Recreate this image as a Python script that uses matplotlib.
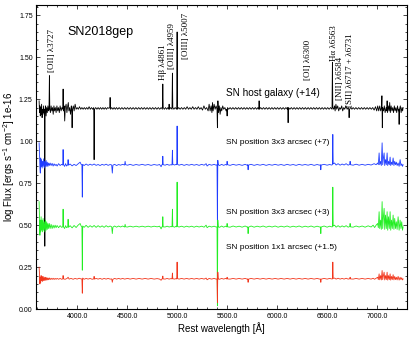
import numpy as np
import matplotlib
matplotlib.use("Agg")
import matplotlib.pyplot as plt
from matplotlib.ticker import MultipleLocator, FormatStrFormatter

plt.rcParams['font.family'] = ['Liberation Sans', 'DejaVu Sans']
plt.rcParams['mathtext.fontset'] = 'custom'
plt.rcParams['mathtext.rm'] = 'Liberation Sans'
plt.rcParams['mathtext.it'] = 'Liberation Sans:italic'

# (rest wavelength [A], log flux), offsets already included
host = [
    (3620, 1.24), (3624, 1.17), (3628, 1.21), (3632, 1.15), (3636, 1.20), (3640, 1.16), (3645, 1.22),
    (3650, 1.14), (3655, 1.19), (3660, 1.17), (3665, 1.21), (3670, 1.16), (3674, 1.19), (3677, 0.375),
    (3680, 1.18), (3685, 1.21), (3690, 1.15), (3696, 1.20), (3702, 1.17), (3708, 1.21), (3714, 1.18),
    (3719, 1.19), (3723, 1.39), (3727, 1.19), (3733, 1.17), (3740, 1.21), (3747, 1.18), (3754, 1.20),
    (3761, 1.16), (3768, 1.21), (3775, 1.18), (3782, 1.20), (3790, 1.17), (3798, 1.21), (3806, 1.18),
    (3814, 1.20), (3822, 1.17), (3830, 1.21), (3840, 1.18), (3848, 1.20), (3856, 1.19), (3860, 1.31),
    (3864, 1.18), (3870, 1.21), (3876, 1.12), (3882, 1.20), (3890, 1.22), (3898, 1.17), (3906, 1.21),
    (3912, 1.23), (3918, 1.18), (3926, 1.20), (3934, 1.16), (3942, 1.21), (3946, 1.19), (3950, 1.08),
    (3954, 1.19), (3962, 1.21), (3970, 1.18), (3980, 1.22), (3990, 1.19), (4000, 1.20), (4012, 1.19),
    (4024, 1.205), (4036, 1.19), (4048, 1.20), (4060, 1.19), (4072, 1.20), (4084, 1.19), (4096, 1.20),
    (4108, 1.19), (4120, 1.205), (4132, 1.19), (4144, 1.20), (4156, 1.19), (4166, 1.20), (4170, 0.89),
    (4174, 1.19), (4186, 1.20), (4198, 1.19), (4210, 1.20), (4222, 1.19), (4234, 1.20), (4246, 1.19),
    (4258, 1.20), (4270, 1.19), (4282, 1.20), (4294, 1.19), (4306, 1.20), (4318, 1.195), (4326, 1.20),
    (4330, 1.26), (4334, 1.19), (4346, 1.20), (4358, 1.19), (4370, 1.20), (4382, 1.19), (4394, 1.20),
    (4406, 1.19), (4420, 1.20), (4434, 1.19), (4448, 1.20), (4462, 1.19), (4476, 1.20), (4490, 1.19),
    (4504, 1.20), (4518, 1.19), (4532, 1.20), (4546, 1.19), (4560, 1.20), (4574, 1.19), (4588, 1.20),
    (4602, 1.19), (4616, 1.20), (4630, 1.19), (4644, 1.20), (4658, 1.19), (4672, 1.20), (4686, 1.19),
    (4700, 1.20), (4714, 1.19), (4728, 1.20), (4742, 1.19), (4756, 1.20), (4770, 1.19), (4784, 1.20),
    (4798, 1.19), (4812, 1.20), (4826, 1.19), (4840, 1.20), (4853, 1.19), (4857, 1.34), (4861, 1.20),
    (4872, 1.19), (4884, 1.20), (4896, 1.19), (4908, 1.20), (4916, 1.19), (4920, 1.22), (4924, 1.19),
    (4936, 1.20), (4949, 1.19), (4953, 1.405), (4957, 1.20), (4968, 1.19), (4980, 1.20), (4996, 1.19),
    (5000, 1.65), (5004, 1.19), (5016, 1.20), (5030, 1.19), (5044, 1.20), (5058, 1.19), (5072, 1.20),
    (5086, 1.19), (5100, 1.205), (5114, 1.19), (5128, 1.20), (5142, 1.19), (5156, 1.205), (5170, 1.19),
    (5184, 1.20), (5198, 1.19), (5212, 1.205), (5226, 1.19), (5240, 1.20), (5254, 1.185), (5268, 1.21),
    (5282, 1.19), (5296, 1.20), (5310, 1.18), (5320, 1.22), (5330, 1.18), (5340, 1.21), (5348, 1.17),
    (5354, 1.23), (5360, 1.18), (5370, 1.22), (5380, 1.19), (5390, 1.21), (5399, 1.19), (5403, 1.08),
    (5408, 1.24), (5414, 1.17), (5422, 1.21), (5430, 1.16), (5438, 1.20), (5446, 1.18), (5456, 1.21),
    (5466, 1.19), (5478, 1.20), (5490, 1.18), (5496, 1.19), (5500, 1.15), (5504, 1.20), (5516, 1.19),
    (5530, 1.20), (5544, 1.19), (5558, 1.20), (5572, 1.19), (5586, 1.20), (5600, 1.19), (5614, 1.20),
    (5628, 1.19), (5642, 1.20), (5656, 1.19), (5670, 1.20), (5684, 1.19), (5698, 1.20), (5712, 1.19),
    (5726, 1.20), (5740, 1.19), (5754, 1.20), (5768, 1.19), (5782, 1.20), (5796, 1.19), (5808, 1.20),
    (5816, 1.19), (5820, 1.24), (5824, 1.19), (5836, 1.20), (5850, 1.19), (5864, 1.20), (5878, 1.19),
    (5892, 1.20), (5906, 1.19), (5920, 1.20), (5934, 1.19), (5948, 1.20), (5962, 1.19), (5976, 1.20),
    (5990, 1.19), (6004, 1.20), (6018, 1.19), (6032, 1.20), (6046, 1.19), (6060, 1.20), (6074, 1.19),
    (6088, 1.20), (6102, 1.19), (6106, 1.20), (6110, 1.11), (6114, 1.20), (6128, 1.19), (6142, 1.20),
    (6156, 1.19), (6170, 1.20), (6184, 1.19), (6198, 1.20), (6212, 1.19), (6226, 1.20), (6240, 1.19),
    (6254, 1.20), (6268, 1.19), (6282, 1.20), (6296, 1.19), (6310, 1.20), (6324, 1.19), (6338, 1.20),
    (6352, 1.19), (6366, 1.20), (6380, 1.19), (6394, 1.20), (6408, 1.19), (6422, 1.20), (6436, 1.19),
    (6450, 1.20), (6464, 1.19), (6478, 1.20), (6492, 1.19), (6506, 1.20), (6520, 1.19), (6534, 1.20),
    (6549, 1.19), (6553, 1.47), (6557, 1.20), (6566, 1.19), (6574, 1.21), (6580, 1.18), (6588, 1.22),
    (6596, 1.19), (6606, 1.21), (6616, 1.18), (6626, 1.20), (6636, 1.19), (6646, 1.21), (6656, 1.18),
    (6666, 1.20), (6676, 1.19), (6688, 1.21), (6700, 1.19), (6712, 1.20), (6716, 1.19), (6720, 1.14),
    (6724, 1.19), (6736, 1.20), (6748, 1.19), (6760, 1.20), (6774, 1.19), (6788, 1.20), (6802, 1.19),
    (6816, 1.20), (6830, 1.19), (6844, 1.20), (6858, 1.19), (6872, 1.20), (6886, 1.19), (6900, 1.20),
    (6914, 1.19), (6928, 1.20), (6942, 1.19), (6956, 1.20), (6970, 1.185), (6984, 1.205), (6996, 1.18),
    (7006, 1.21), (7016, 1.18), (7026, 1.21), (7036, 1.18), (7044, 1.20), (7048, 1.27), (7052, 1.08),
    (7056, 1.20), (7064, 1.18), (7072, 1.21), (7080, 1.17), (7090, 1.20), (7096, 1.18), (7100, 1.24),
    (7104, 1.17), (7112, 1.21), (7120, 1.18), (7126, 1.23), (7132, 1.17), (7140, 1.21), (7148, 1.18),
    (7156, 1.20), (7164, 1.17), (7172, 1.21), (7180, 1.18), (7188, 1.20), (7196, 1.17), (7204, 1.21),
    (7212, 1.18), (7216, 1.19), (7220, 1.10), (7224, 1.19), (7232, 1.21), (7240, 1.17), (7248, 1.20),
    (7255, 1.18), (7260, 1.20),
]

pos3x3_a = [
    (3620, 0.99), (3624, 0.93), (3628, 0.84), (3632, 0.81), (3636, 0.90), (3640, 0.85), (3645, 0.89),
    (3650, 0.84), (3655, 0.88), (3660, 0.85), (3666, 0.895), (3672, 0.84), (3678, 0.88), (3684, 0.85),
    (3690, 0.885), (3696, 0.85), (3702, 0.875), (3708, 0.85), (3715, 0.87), (3722, 0.855), (3730, 0.87),
    (3740, 0.855), (3750, 0.868), (3760, 0.852), (3770, 0.865), (3780, 0.855), (3790, 0.862), (3800, 0.852),
    (3815, 0.866), (3830, 0.855), (3845, 0.862), (3856, 0.858), (3860, 0.95), (3864, 0.86), (3875, 0.85),
    (3885, 0.866), (3895, 0.852), (3906, 0.86), (3910, 0.89), (3914, 0.857), (3930, 0.864), (3950, 0.853),
    (3970, 0.862), (3990, 0.855), (4010, 0.865), (4030, 0.875), (4040, 0.862), (4048, 0.86), (4052, 0.667),
    (4056, 0.862), (4070, 0.855), (4090, 0.864), (4110, 0.856), (4130, 0.863), (4150, 0.857), (4170, 0.864),
    (4190, 0.856), (4210, 0.861), (4230, 0.855), (4250, 0.862), (4270, 0.857), (4290, 0.863), (4310, 0.856),
    (4330, 0.861), (4346, 0.858), (4352, 0.81), (4358, 0.857), (4375, 0.862), (4395, 0.855), (4415, 0.861),
    (4435, 0.857), (4455, 0.862), (4475, 0.858), (4480, 0.88), (4485, 0.86), (4505, 0.857), (4530, 0.862),
    (4560, 0.856), (4590, 0.861), (4620, 0.857), (4650, 0.862), (4680, 0.857), (4710, 0.861), (4740, 0.856),
    (4770, 0.861), (4800, 0.857), (4825, 0.861), (4840, 0.848), (4848, 0.86), (4853, 0.86), (4857, 0.91),
    (4861, 0.86), (4880, 0.857), (4900, 0.862), (4920, 0.857), (4940, 0.86), (4949, 0.858), (4953, 0.946),
    (4957, 0.862), (4975, 0.858), (4990, 0.862), (4996, 0.86), (5000, 1.09), (5004, 0.862), (5020, 0.857),
    (5045, 0.862), (5070, 0.856), (5095, 0.861), (5120, 0.857), (5145, 0.862), (5170, 0.857), (5195, 0.861),
    (5220, 0.856), (5245, 0.862), (5270, 0.857), (5290, 0.866), (5300, 0.852), (5320, 0.862), (5345, 0.857),
    (5370, 0.862), (5390, 0.857), (5399, 0.86), (5403, 0.50), (5407, 0.886), (5411, 0.86), (5425, 0.855),
    (5445, 0.862), (5465, 0.856), (5485, 0.861), (5496, 0.858), (5500, 0.88), (5504, 0.86), (5530, 0.856),
    (5560, 0.862), (5590, 0.857), (5620, 0.861), (5650, 0.856), (5680, 0.862), (5700, 0.857), (5706, 0.86),
    (5710, 0.83), (5714, 0.858), (5740, 0.862), (5770, 0.856), (5800, 0.861), (5830, 0.857), (5860, 0.862),
    (5890, 0.856), (5920, 0.861), (5950, 0.857), (5980, 0.862), (6010, 0.857), (6040, 0.861), (6070, 0.856),
    (6100, 0.862), (6130, 0.857), (6160, 0.861), (6190, 0.856), (6220, 0.862), (6250, 0.857), (6280, 0.861),
    (6310, 0.857), (6340, 0.862), (6370, 0.856), (6400, 0.861), (6425, 0.857), (6433, 0.86), (6437, 0.83),
    (6441, 0.858), (6470, 0.862), (6500, 0.857), (6525, 0.861), (6545, 0.858), (6553, 0.86), (6557, 1.04),
    (6561, 0.865), (6575, 0.87), (6590, 0.858), (6610, 0.866), (6630, 0.857), (6650, 0.864), (6670, 0.858),
    (6690, 0.866), (6710, 0.857), (6726, 0.862), (6730, 0.88), (6734, 0.86), (6760, 0.857), (6790, 0.863),
    (6820, 0.857), (6850, 0.862), (6880, 0.857), (6910, 0.862), (6940, 0.858), (6970, 0.866), (6990, 0.86),
    (7005, 0.87), (7012, 0.86), (7020, 0.93), (7026, 0.86), (7035, 0.88), (7042, 0.855), (7050, 0.99),
    (7056, 0.86), (7063, 0.90), (7070, 0.93), (7076, 0.855), (7084, 0.89), (7092, 0.86), (7100, 0.93),
    (7106, 0.855), (7114, 0.88), (7122, 0.86), (7130, 0.905), (7136, 0.855), (7144, 0.875), (7152, 0.86),
    (7160, 0.90), (7168, 0.855), (7176, 0.88), (7184, 0.86), (7192, 0.875), (7200, 0.855), (7210, 0.87),
    (7220, 0.85), (7230, 0.89), (7238, 0.855), (7246, 0.865), (7254, 0.85), (7260, 0.86),
]

pos3x3_b = [
    (3620, 0.64), (3624, 0.55), (3628, 0.44), (3632, 0.53), (3636, 0.46), (3640, 0.55), (3645, 0.47),
    (3650, 0.53), (3655, 0.46), (3660, 0.54), (3666, 0.47), (3672, 0.52), (3678, 0.46), (3684, 0.53),
    (3690, 0.47), (3696, 0.52), (3702, 0.475), (3708, 0.51), (3715, 0.48), (3722, 0.51), (3730, 0.48),
    (3740, 0.505), (3750, 0.48), (3760, 0.50), (3770, 0.483), (3780, 0.50), (3790, 0.485), (3800, 0.498),
    (3815, 0.485), (3830, 0.497), (3845, 0.487), (3856, 0.49), (3860, 0.595), (3864, 0.49), (3875, 0.48),
    (3885, 0.497), (3895, 0.485), (3906, 0.49), (3910, 0.535), (3914, 0.487), (3930, 0.497), (3950, 0.484),
    (3970, 0.498), (3990, 0.486), (4010, 0.50), (4030, 0.51), (4040, 0.495), (4048, 0.49), (4052, 0.232),
    (4056, 0.495), (4070, 0.487), (4090, 0.499), (4110, 0.487), (4130, 0.497), (4150, 0.488), (4170, 0.498),
    (4190, 0.487), (4210, 0.497), (4230, 0.488), (4250, 0.496), (4270, 0.487), (4290, 0.497), (4310, 0.489),
    (4330, 0.495), (4346, 0.49), (4352, 0.45), (4358, 0.488), (4375, 0.495), (4395, 0.488), (4415, 0.495),
    (4435, 0.489), (4455, 0.495), (4475, 0.489), (4480, 0.505), (4485, 0.49), (4505, 0.489), (4530, 0.494),
    (4560, 0.489), (4590, 0.494), (4620, 0.489), (4650, 0.494), (4680, 0.489), (4710, 0.494), (4740, 0.489),
    (4770, 0.494), (4800, 0.49), (4825, 0.494), (4840, 0.478), (4848, 0.49), (4853, 0.49), (4857, 0.55),
    (4861, 0.49), (4880, 0.489), (4900, 0.494), (4920, 0.489), (4940, 0.492), (4949, 0.49), (4953, 0.595),
    (4957, 0.492), (4975, 0.488), (4990, 0.494), (4996, 0.49), (5000, 0.756), (5004, 0.492), (5020, 0.489),
    (5045, 0.494), (5070, 0.488), (5095, 0.494), (5120, 0.489), (5145, 0.494), (5170, 0.488), (5195, 0.494),
    (5220, 0.489), (5245, 0.494), (5270, 0.488), (5290, 0.50), (5300, 0.485), (5320, 0.494), (5345, 0.489),
    (5370, 0.494), (5390, 0.489), (5399, 0.49), (5403, 0.02), (5407, 0.53), (5411, 0.49), (5425, 0.487),
    (5445, 0.495), (5465, 0.488), (5485, 0.494), (5496, 0.49), (5500, 0.51), (5504, 0.49), (5530, 0.488),
    (5560, 0.495), (5590, 0.489), (5620, 0.494), (5650, 0.488), (5680, 0.495), (5700, 0.489), (5706, 0.49),
    (5710, 0.45), (5714, 0.488), (5740, 0.495), (5770, 0.488), (5800, 0.494), (5830, 0.489), (5860, 0.495),
    (5890, 0.488), (5920, 0.494), (5950, 0.489), (5980, 0.495), (6010, 0.488), (6040, 0.494), (6070, 0.489),
    (6100, 0.495), (6130, 0.488), (6160, 0.494), (6190, 0.489), (6220, 0.495), (6250, 0.488), (6280, 0.494),
    (6310, 0.489), (6340, 0.495), (6370, 0.488), (6400, 0.494), (6425, 0.489), (6433, 0.49), (6437, 0.45),
    (6441, 0.489), (6470, 0.495), (6500, 0.488), (6525, 0.494), (6545, 0.49), (6553, 0.49), (6557, 0.726),
    (6561, 0.495), (6575, 0.50), (6590, 0.488), (6610, 0.497), (6630, 0.488), (6650, 0.496), (6670, 0.489),
    (6690, 0.497), (6710, 0.488), (6726, 0.492), (6730, 0.51), (6734, 0.49), (6760, 0.488), (6790, 0.495),
    (6820, 0.489), (6850, 0.495), (6880, 0.488), (6910, 0.496), (6940, 0.489), (6960, 0.50), (6975, 0.486),
    (6990, 0.50), (7005, 0.51), (7012, 0.485), (7020, 0.58), (7026, 0.48), (7035, 0.53), (7042, 0.475),
    (7050, 0.64), (7056, 0.48), (7063, 0.55), (7070, 0.60), (7076, 0.475), (7084, 0.56), (7092, 0.48),
    (7100, 0.58), (7106, 0.47), (7114, 0.55), (7122, 0.48), (7130, 0.58), (7136, 0.47), (7144, 0.53),
    (7152, 0.48), (7160, 0.56), (7168, 0.475), (7176, 0.54), (7184, 0.48), (7192, 0.52), (7200, 0.475),
    (7210, 0.55), (7220, 0.47), (7230, 0.53), (7238, 0.48), (7246, 0.52), (7254, 0.47), (7260, 0.49),
]

pos1x1 = [
    (3620, 0.25), (3624, 0.21), (3628, 0.15), (3632, 0.19), (3636, 0.16), (3640, 0.20), (3645, 0.17),
    (3650, 0.195), (3655, 0.165), (3660, 0.195), (3666, 0.17), (3672, 0.19), (3678, 0.17), (3684, 0.19),
    (3690, 0.172), (3696, 0.188), (3702, 0.174), (3708, 0.186), (3715, 0.175), (3722, 0.186), (3730, 0.176),
    (3740, 0.184), (3750, 0.177), (3760, 0.184), (3770, 0.177), (3780, 0.183), (3790, 0.178), (3800, 0.183),
    (3815, 0.178), (3830, 0.183), (3845, 0.178), (3856, 0.18), (3860, 0.20), (3864, 0.18), (3880, 0.178),
    (3900, 0.183), (3910, 0.19), (3920, 0.179), (3940, 0.183), (3960, 0.178), (3980, 0.183), (4000, 0.179),
    (4020, 0.184), (4040, 0.18), (4048, 0.18), (4052, 0.095), (4056, 0.185), (4070, 0.178), (4090, 0.183),
    (4110, 0.179), (4130, 0.183), (4150, 0.178), (4166, 0.18), (4170, 0.195), (4174, 0.179), (4190, 0.183),
    (4210, 0.179), (4230, 0.183), (4250, 0.178), (4270, 0.183), (4290, 0.179), (4310, 0.183), (4330, 0.179),
    (4346, 0.18), (4352, 0.16), (4358, 0.178), (4375, 0.183), (4395, 0.179), (4415, 0.183), (4435, 0.179),
    (4455, 0.183), (4475, 0.179), (4505, 0.183), (4530, 0.179), (4560, 0.183), (4590, 0.179), (4620, 0.183),
    (4650, 0.179), (4680, 0.183), (4710, 0.179), (4740, 0.183), (4770, 0.179), (4800, 0.182), (4825, 0.179),
    (4840, 0.172), (4848, 0.18), (4853, 0.18), (4857, 0.197), (4861, 0.18), (4880, 0.179), (4900, 0.183),
    (4920, 0.179), (4940, 0.182), (4949, 0.18), (4953, 0.215), (4957, 0.181), (4975, 0.179), (4990, 0.182),
    (4996, 0.18), (5000, 0.28), (5004, 0.182), (5020, 0.179), (5045, 0.183), (5070, 0.179), (5095, 0.183),
    (5120, 0.179), (5145, 0.183), (5170, 0.179), (5195, 0.183), (5220, 0.179), (5245, 0.183), (5270, 0.179),
    (5290, 0.185), (5300, 0.175), (5320, 0.183), (5345, 0.179), (5370, 0.183), (5390, 0.179), (5399, 0.18),
    (5403, 0.04), (5407, 0.22), (5411, 0.18), (5425, 0.178), (5445, 0.183), (5465, 0.179), (5485, 0.183),
    (5496, 0.18), (5500, 0.19), (5504, 0.18), (5530, 0.179), (5560, 0.183), (5590, 0.179), (5620, 0.183),
    (5650, 0.179), (5680, 0.183), (5700, 0.179), (5706, 0.18), (5710, 0.16), (5714, 0.179), (5740, 0.183),
    (5770, 0.179), (5800, 0.183), (5830, 0.179), (5860, 0.183), (5890, 0.179), (5920, 0.183), (5950, 0.179),
    (5980, 0.183), (6010, 0.179), (6040, 0.183), (6070, 0.179), (6100, 0.183), (6130, 0.179), (6160, 0.183),
    (6190, 0.179), (6220, 0.183), (6250, 0.179), (6280, 0.183), (6310, 0.179), (6340, 0.183), (6370, 0.179),
    (6400, 0.183), (6425, 0.179), (6433, 0.18), (6437, 0.16), (6441, 0.179), (6470, 0.183), (6500, 0.179),
    (6525, 0.183), (6545, 0.18), (6553, 0.18), (6557, 0.28), (6561, 0.183), (6575, 0.185), (6590, 0.179),
    (6610, 0.184), (6630, 0.179), (6650, 0.183), (6670, 0.179), (6690, 0.184), (6710, 0.179), (6726, 0.181),
    (6730, 0.19), (6734, 0.18), (6760, 0.179), (6790, 0.183), (6820, 0.179), (6850, 0.183), (6880, 0.179),
    (6910, 0.183), (6940, 0.179), (6960, 0.184), (6975, 0.178), (6990, 0.184), (7005, 0.19), (7012, 0.176),
    (7020, 0.21), (7026, 0.175), (7035, 0.20), (7042, 0.174), (7050, 0.23), (7056, 0.176), (7063, 0.20),
    (7070, 0.22), (7076, 0.174), (7084, 0.20), (7092, 0.176), (7100, 0.22), (7106, 0.173), (7114, 0.20),
    (7122, 0.176), (7130, 0.21), (7136, 0.173), (7144, 0.195), (7152, 0.176), (7160, 0.205), (7168, 0.174),
    (7176, 0.195), (7184, 0.176), (7192, 0.19), (7200, 0.174), (7210, 0.195), (7220, 0.173), (7230, 0.19),
    (7238, 0.176), (7246, 0.187), (7254, 0.174), (7260, 0.18),
]

spectra = [host, pos3x3_a, pos3x3_b, pos1x1]
colors = ['black', '#1f3cff', '#22ee22', '#f2361c']

# spectrum labels: (text, x, y, fontsize)
spec_labels = [
    ("SN host galaxy (+14)", 5490, 1.286, 7.2),
    ("SN position 3x3 arcsec (+7)", 5490, 0.994, 6.0),
    ("SN position 3x3 arcsec (+3)", 5490, 0.577, 6.0),
    ("SN position 1x1 arcsec (+1.5)", 5490, 0.369, 6.0),
]

# emission line labels: (text, x, y bottom)
line_labels = [
    ("[OII] λ3727", 3750, 1.41),
    ("Hβ λ4861", 4862, 1.363),
    ("[OIII] λ4959", 4952, 1.43),
    ("[OIII] λ5007", 5090, 1.49),
    ("[OI] λ6300", 6310, 1.363),
    ("Hα λ6563", 6572, 1.48),
    ("[NII] λ6584", 6632, 1.244),
    ("[SII] λ6717 + λ6731", 6732, 1.202),
]

fig = plt.figure(figsize=(4.15, 3.39), dpi=100)
ax = fig.add_axes([0.087, 0.088, 0.894, 0.897])

for spec, col in zip(spectra, colors):
    wl, fl = np.array(spec).T
    ax.plot(wl, fl, color=col, lw=0.6)

ax.text(4230, 1.65, "SN2018gep", fontsize=9, ha='center', va='center')
for txt, x, y, fs in spec_labels:
    ax.text(x, y, txt, fontsize=fs, ha='left', va='center')
for txt, x, y in line_labels:
    ax.text(x, y, txt, fontsize=6.5, rotation=90, ha='center', va='bottom',
            family=['Liberation Serif', 'DejaVu Serif'])

ax.set_xlim(3590, 7300)
ax.set_ylim(0.0, 1.81)
ax.xaxis.set_major_locator(MultipleLocator(500))
ax.xaxis.set_minor_locator(MultipleLocator(100))
ax.yaxis.set_major_locator(MultipleLocator(0.25))
ax.yaxis.set_minor_locator(MultipleLocator(0.05))
ax.xaxis.set_major_formatter(FormatStrFormatter('%.1f'))
ax.yaxis.set_major_formatter(FormatStrFormatter('%.2f'))
ax.tick_params(which='both', direction='in', top=True, right=True, labelsize=5, width=0.5, pad=2.5)
ax.tick_params(which='major', length=3)
ax.tick_params(which='minor', length=1.5)
for s in ax.spines.values():
    s.set_linewidth(0.8)

ax.set_xlabel("Rest wavelength [Å]", fontsize=7)
ax.set_ylabel("log Flux [ergs s$^{-1}$ cm$^{-2}$] 1e-16", fontsize=7)
ax.xaxis.set_label_coords(0.5, -0.043)
ax.yaxis.set_label_coords(-0.052, 0.5)

fig.savefig("out.png", dpi=100)
